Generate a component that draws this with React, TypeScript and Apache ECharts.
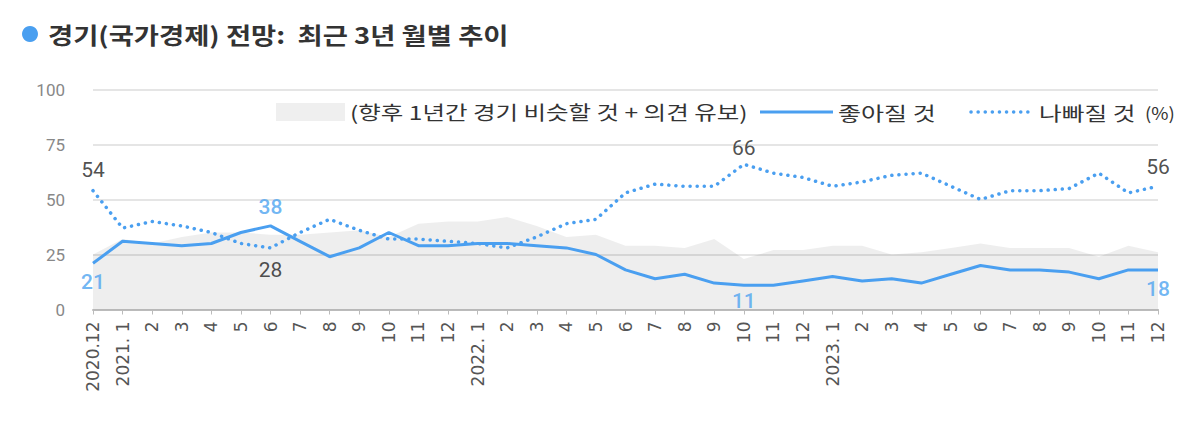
import { useEffect, useRef } from "react";
import * as echarts from "echarts";

const categories = [
  "2020.12", "2021. 1", "2", "3", "4", "5", "6", "7", "8", "9", "10", "11", "12",
  "2022. 1", "2", "3", "4", "5", "6", "7", "8", "9", "10", "11", "12",
  "2023. 1", "2", "3", "4", "5", "6", "7", "8", "9", "10", "11", "12",
];

const titleText = "경기(국가경제) 전망:  최근 3년 월별 추이";
const neutralName = "(향후 1년간 경기 비슷할 것 + 의견 유보)";
const goodName = "좋아질 것";
const badName = "나빠질 것";
const unitText = "(%)";

const goodValues = [
  21, 31, 30, 29, 30, 35, 38, 31, 24, 28, 35, 29, 29,
  30, 30, 29, 28, 25, 18, 14, 16, 12, 11, 11, 13,
  15, 13, 14, 12, 16, 20, 18, 18, 17, 14, 18, 18,
];

const badValues = [
  54, 37, 40, 38, 35, 30, 28, 35, 41, 36, 32, 32, 31,
  30, 28, 33, 39, 41, 53, 57, 56, 56, 66, 62, 60,
  56, 58, 61, 62, 56, 50, 54, 54, 55, 62, 53, 56,
];

const neutralValues = [
  25, 32, 30, 33, 35, 35, 34, 34, 35, 36, 33, 39, 40,
  40, 42, 38, 33, 34, 29, 29, 28, 32, 23, 27, 27,
  29, 29, 25, 26, 28, 30, 28, 28, 28, 24, 29, 26,
];

const goodLabels = [
  { index: 0, position: "bottom", distance: 8 },
  { index: 6, position: "top", distance: 8 },
  { index: 22, position: "bottom", distance: 5 },
  { index: 36, position: "bottom", distance: 9 },
];
const badLabels = [
  { index: 0, position: "top", distance: 10 },
  { index: 6, position: "bottom", distance: 12 },
  { index: 22, position: "top", distance: 6 },
  { index: 36, position: "top", distance: 9 },
];

const BLUE = "#4a9ff0";
const KR = "'Noto Sans CJK KR', 'Noto Sans', sans-serif";
const NUM = "Roboto, 'Noto Sans', sans-serif";

export default function App() {
  const ref = useRef<HTMLDivElement>(null);

  useEffect(() => {
    if (!ref.current) return;
    const chart = echarts.init(ref.current, undefined, { renderer: "svg" });
    const legendText = (text: string, x: number, size: number, sx: number) => ({
      type: "text",
      x,
      y: 112,
      scaleX: sx,
      style: {
        text,
        fontSize: size,
        fontFamily: KR,
        fill: "#333",
        align: "left",
        verticalAlign: "middle",
      },
    });
    const option: any = {
      animation: false,
      backgroundColor: "#ffffff",
      graphic: [
        { type: "circle", shape: { cx: 30, cy: 34, r: 8 }, style: { fill: BLUE } },
        {
          type: "text",
          x: 48,
          y: 34,
          scaleX: 1.19,
          style: {
            text: titleText,
            fontSize: 23,
            fontWeight: "bold",
            fontFamily: KR,
            fill: "#333",
            align: "left",
            verticalAlign: "middle",
          },
        },
        { type: "rect", shape: { x: 276, y: 103, width: 69, height: 18 }, style: { fill: "#efefef" } },
        legendText(neutralName, 350, 19, 1.29),
        {
          type: "line",
          shape: { x1: 760, y1: 112, x2: 833, y2: 112 },
          style: { stroke: BLUE, lineWidth: 3 },
        },
        legendText(goodName, 838, 19, 1.32),
        {
          type: "line",
          shape: { x1: 971, y1: 112, x2: 1033, y2: 112 },
          style: { stroke: BLUE, lineWidth: 3.5, lineDash: [0.1, 7], lineCap: "round" },
        },
        legendText(badName, 1039, 19, 1.3),
        legendText(unitText, 1145, 17, 1.1),
      ],
      grid: { left: 93, right: 42, top: 89.5, bottom: 123.5 },
      xAxis: {
        type: "category",
        boundaryGap: false,
        data: categories,
        axisLine: { lineStyle: { color: "#bbbbbb", width: 2 } },
        axisTick: { show: true, length: 5, lineStyle: { color: "#bbbbbb" } },
        axisLabel: {
          rotate: 90,
          interval: 0,
          fontSize: 17,
          color: "#555",
          margin: 12,
          fontFamily: "'DejaVu Sans', sans-serif",
        },
      },
      yAxis: {
        type: "value",
        min: 0,
        max: 100,
        interval: 25,
        axisLine: { show: false },
        axisTick: { show: false },
        axisLabel: { color: "#888", fontSize: 17, margin: 28, fontFamily: NUM },
        splitLine: { lineStyle: { color: "#dcdcdc", width: 1.5 } },
      },
      series: [
        {
          name: neutralName,
          type: "line",
          data: neutralValues,
          symbol: "none",
          color: "#efefef",
          lineStyle: { width: 0 },
          areaStyle: { color: "rgba(0,0,0,0.065)", opacity: 1 },
          z: 1,
        },
        {
          name: badName,
          type: "line",
          data: badValues,
          symbol: "none",
          color: BLUE,
          lineStyle: { color: BLUE, width: 3.5, type: [0.1, 7], cap: "round" },
          z: 2,
        },
        {
          name: goodName,
          type: "line",
          data: goodValues,
          symbol: "none",
          color: BLUE,
          lineStyle: { color: BLUE, width: 3 },
          z: 3,
        },
        {
          type: "scatter",
          symbolSize: 0,
          z: 5,
          data: goodLabels.map((l) => ({
            value: [l.index, goodValues[l.index]],
            label: { position: l.position, distance: l.distance },
          })),
          label: {
            show: true,
            formatter: (p: any) => String(p.value[1]),
            fontSize: 21,
            fontWeight: 500,
            color: "#4da3f0",
            fontFamily: NUM,
          },
        },
        {
          type: "scatter",
          symbolSize: 0,
          z: 5,
          data: badLabels.map((l) => ({
            value: [l.index, badValues[l.index]],
            label: { position: l.position, distance: l.distance },
          })),
          label: {
            show: true,
            formatter: (p: any) => String(p.value[1]),
            fontSize: 21,
            color: "#222",
            fontFamily: NUM,
          },
        },
      ],
    };
    chart.setOption(option);
    return () => chart.dispose();
  }, []);

  return (
    <div
      ref={ref}
      style={{ position: "fixed", left: 0, top: 0, width: 1200, height: 433, background: "#fff" }}
    />
  );
}
